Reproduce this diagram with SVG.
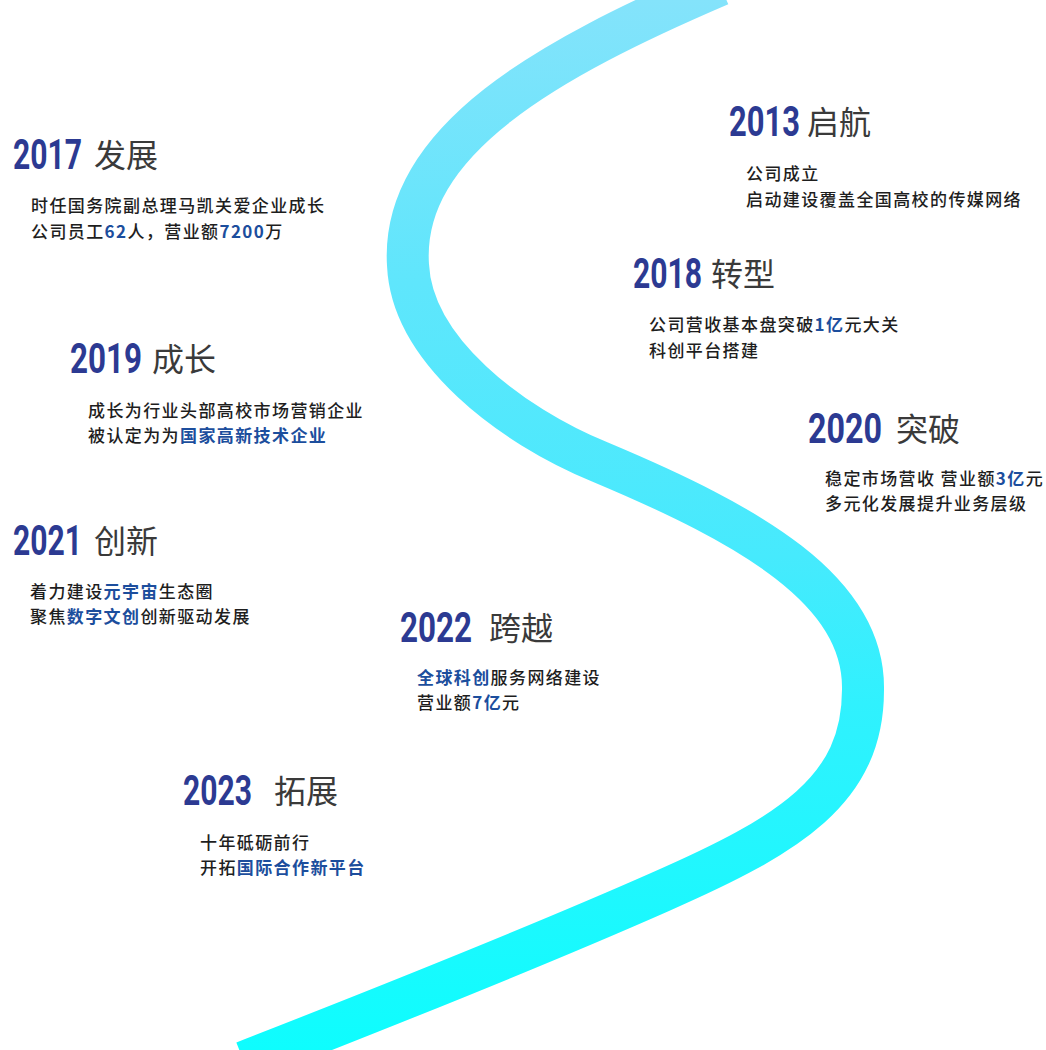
<svg xmlns="http://www.w3.org/2000/svg" width="1046" height="1050" viewBox="0 0 1046 1050">
<defs>
<linearGradient id="rib" gradientUnits="userSpaceOnUse" x1="0" y1="0" x2="0" y2="1050">
<stop offset="0" stop-color="#84e3fb"/>
<stop offset="0.27" stop-color="#5fe6fc"/>
<stop offset="0.53" stop-color="#46eafd"/>
<stop offset="0.67" stop-color="#30f1fe"/>
<stop offset="0.86" stop-color="#1df8fe"/>
<stop offset="1" stop-color="#0efdfe"/>
</linearGradient>
<style>
.yr{font-family:Roboto,"Liberation Sans",sans-serif;font-weight:700;font-size:31px;fill:#2c3a92}
.tt{font-family:"Noto Sans CJK SC","Noto Sans CJK JP",sans-serif;font-weight:400;font-size:32px;fill:#3a3a3a}
.b{font-family:"Noto Sans CJK SC","Noto Sans CJK JP",sans-serif;font-weight:500;font-size:17px;letter-spacing:1.4px;fill:#1e1e1e}
.h{fill:#1c4e9d;font-weight:700}
</style>
</defs>
<rect width="1046" height="1050" fill="#ffffff"/>
<g id="connectors">
<path id="timeline" d="M 720,-15 C 550,58 400,140 408,265 C 412,350 510,425 600,462 C 750,525 865,590 863,690 C 863,790 790,835 660,892 C 540,945 390,1005 244,1062" fill="none" stroke="url(#rib)" stroke-width="42" stroke-linecap="butt"/>
</g>
<g id="node-2013">
<text class="yr" transform="translate(729,136) scale(1,1.4)" textLength="71" lengthAdjust="spacingAndGlyphs">2013</text>
<text class="tt" x="807" y="134">启航</text>
<text class="b" x="746" y="179.5">公司成立</text>
<text class="b" x="746" y="205.5">启动建设覆盖全国高校的传媒网络</text>
</g>
<g id="node-2017">
<text class="yr" transform="translate(13,169) scale(1,1.4)" textLength="69" lengthAdjust="spacingAndGlyphs">2017</text>
<text class="tt" x="94" y="167">发展</text>
<text class="b" x="31" y="211.5">时任国务院副总理马凯关爱企业成长</text>
<text class="b" x="31" y="237.5">公司员工<tspan class="h">62</tspan>人，营业额<tspan class="h">7200</tspan>万</text>
</g>
<g id="node-2018">
<text class="yr" transform="translate(633,288) scale(1,1.4)" textLength="69" lengthAdjust="spacingAndGlyphs">2018</text>
<text class="tt" x="711" y="286">转型</text>
<text class="b" x="649" y="330.5">公司营收基本盘突破<tspan class="h">1亿</tspan>元大关</text>
<text class="b" x="649" y="356.5">科创平台搭建</text>
</g>
<g id="node-2019">
<text class="yr" transform="translate(70,373) scale(1,1.4)" textLength="72" lengthAdjust="spacingAndGlyphs">2019</text>
<text class="tt" x="152" y="371">成长</text>
<text class="b" x="88" y="416.5">成长为行业头部高校市场营销企业</text>
<text class="b" x="88" y="442">被认定为为<tspan class="h">国家高新技术企业</tspan></text>
</g>
<g id="node-2020">
<text class="yr" transform="translate(808,443) scale(1,1.4)" textLength="74" lengthAdjust="spacingAndGlyphs">2020</text>
<text class="tt" x="896" y="441">突破</text>
<text class="b" x="825" y="484.5">稳定市场营收 营业额<tspan class="h">3亿</tspan>元</text>
<text class="b" x="825" y="509.5">多元化发展提升业务层级</text>
</g>
<g id="node-2021">
<text class="yr" transform="translate(13,555) scale(1,1.4)" textLength="69" lengthAdjust="spacingAndGlyphs">2021</text>
<text class="tt" x="94" y="553">创新</text>
<text class="b" x="30" y="598">着力建设<tspan class="h">元宇宙</tspan>生态圈</text>
<text class="b" x="30" y="623">聚焦<tspan class="h">数字文创</tspan>创新驱动发展</text>
</g>
<g id="node-2022">
<text class="yr" transform="translate(400,642) scale(1,1.4)" textLength="72" lengthAdjust="spacingAndGlyphs">2022</text>
<text class="tt" x="489" y="640">跨越</text>
<text class="b" x="417" y="683.5"><tspan class="h">全球科创</tspan>服务网络建设</text>
<text class="b" x="417" y="709">营业额<tspan class="h">7亿</tspan>元</text>
</g>
<g id="node-2023">
<text class="yr" transform="translate(183,805) scale(1,1.4)" textLength="69" lengthAdjust="spacingAndGlyphs">2023</text>
<text class="tt" x="274" y="803">拓展</text>
<text class="b" x="200" y="848.5">十年砥砺前行</text>
<text class="b" x="200" y="873.5">开拓<tspan class="h">国际合作新平台</tspan></text>
</g>
</svg>
